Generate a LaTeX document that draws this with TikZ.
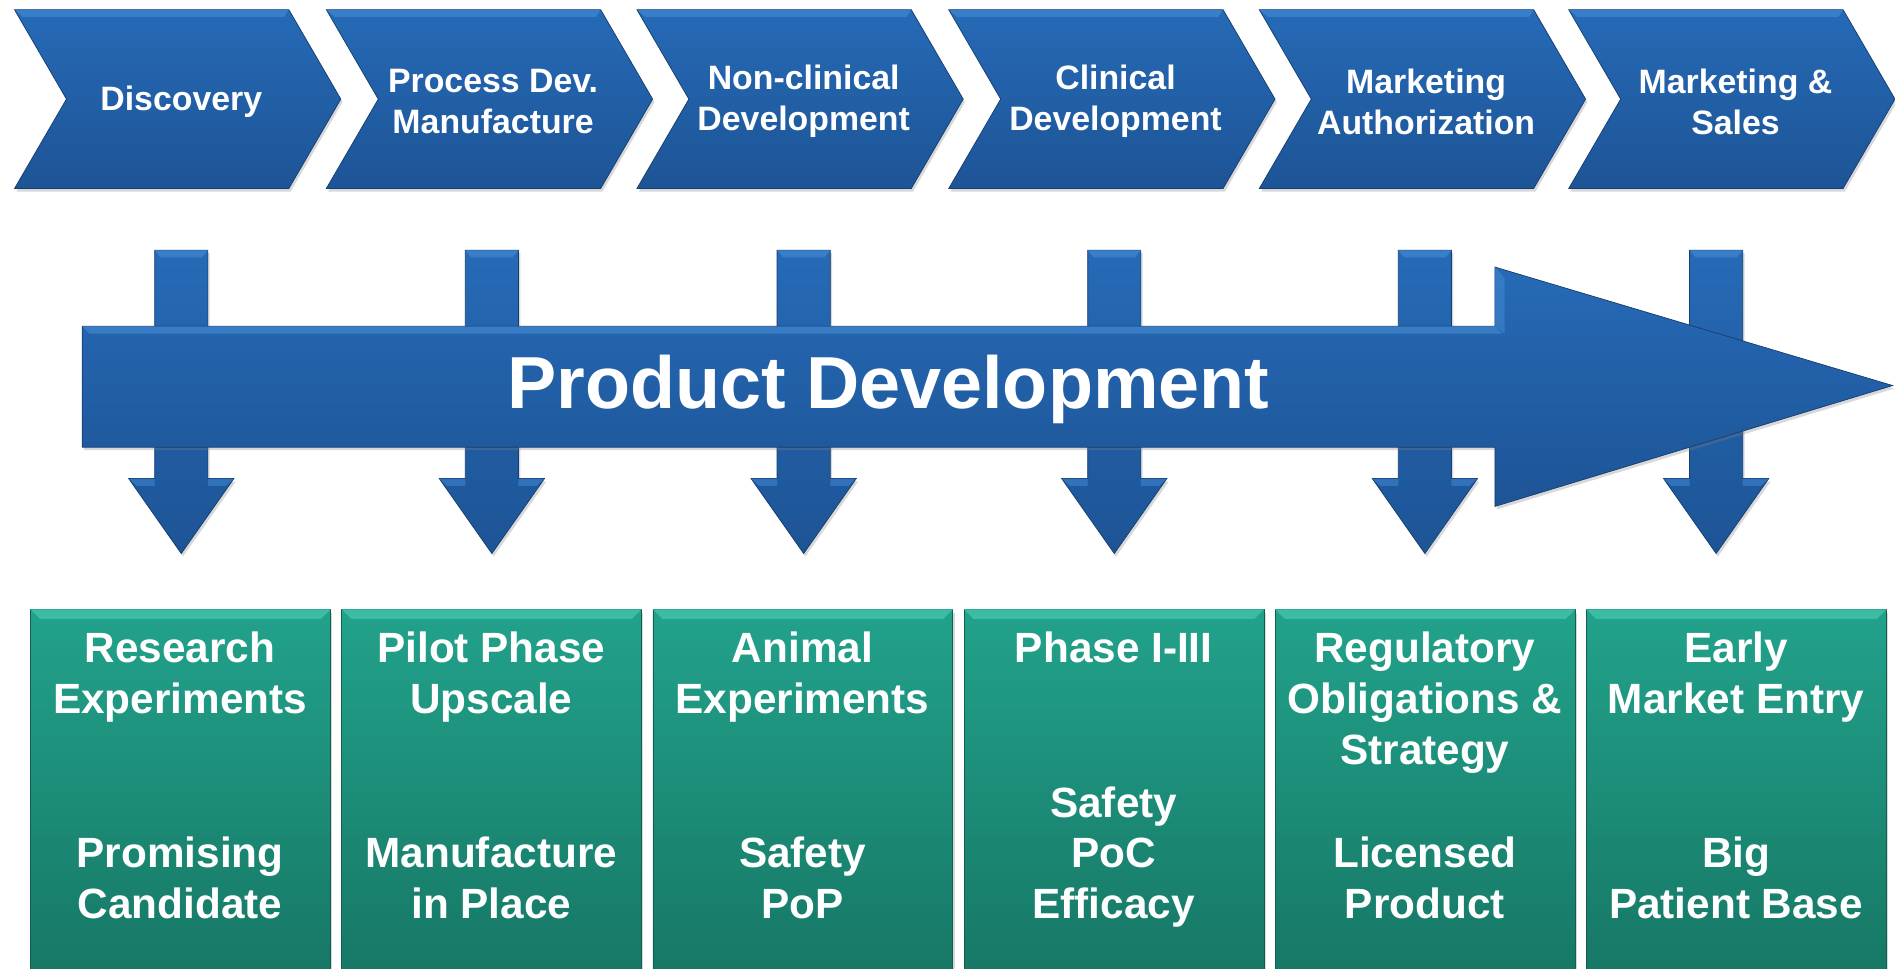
\documentclass[tikz,border=0pt]{standalone}
\usepackage{fontspec}
\setmainfont{Liberation Sans}
\usetikzlibrary{shadows}
\definecolor{blueT}{RGB}{38,106,182}
\definecolor{blueB}{RGB}{29,84,150}
\definecolor{blueEdge}{RGB}{22,62,112}
\definecolor{blueLight}{RGB}{70,140,215}
\definecolor{greenT}{RGB}{34,162,139}
\definecolor{greenB}{RGB}{22,118,100}
\definecolor{greenLight}{RGB}{70,200,175}
\definecolor{greenEdge}{RGB}{18,95,80}
\begin{document}
\begin{tikzpicture}[x=1pt,y=-1pt,
  blueshape/.style={top color=blueT,bottom color=blueB,draw=blueEdge,line width=0.6pt,
    drop shadow={opacity=0.3,shadow xshift=1.5pt,shadow yshift=-2.5pt}},
  greenbox/.style={rectangle,inner sep=0pt,minimum width=248pt,minimum height=311pt,
    top color=greenT,bottom color=greenB,draw=greenEdge,line width=0.6pt,
    drop shadow={opacity=0.3,shadow xshift=1.5pt,shadow yshift=-2.5pt}},
  chevtext/.style={text=white,align=center,font=\fontsize{28}{34}\selectfont\bfseries},
  boxtext/.style={text=white,align=center,anchor=north,inner sep=0pt,font=\fontsize{35}{42}\selectfont\bfseries},
  pdtext/.style={text=white,font=\fontsize{61}{70}\selectfont\bfseries}
]
\useasboundingbox (0,0) rectangle (1568,801);
\clip (0,0) rectangle (1568,801);
\fill[white] (0,0) rectangle (1568,801);

% ---- chevrons
\foreach \L/\n/\t in {12/c1/{Discovery},270/c2/{Process Dev.\\Manufacture},527/c3/{Non-clinical\\Development},785/c4/{Clinical\\Development},1042/c5/{Marketing\\Authorization},1298/c6/{Marketing \&\\Sales}}{
  \path[blueshape] (\L,8) -- ({\L+227},8) -- ({\L+270},82) -- ({\L+227},156) -- (\L,156) -- ({\L+43},82) -- cycle;
  \fill[blueLight,opacity=0.6] (\L,8) -- ({\L+227},8) -- ({\L+223},14) -- ({\L+7},14) -- cycle;
  \node[chevtext] (\n) at ({\L+138},84) {\t};
}

% ---- down arrows
\foreach \c/\n in {150/d1,407/d2,665/d3,922/d4,1179/d5,1420/d6}{
  \path[blueshape] ({\c-22},207) -- ({\c+22},207) -- ({\c+22},396) -- ({\c+43.5},396) -- (\c,458) -- ({\c-43.5},396) -- ({\c-22},396) -- cycle;
  \fill[blueLight,opacity=0.6] ({\c-22},207) -- ({\c+22},207) -- ({\c+17},213) -- ({\c-17},213) -- cycle;
  \fill[blueLight,opacity=0.5] ({\c+22},396) -- ({\c+43.5},396) -- ({\c+37},402) -- ({\c+22},402) -- cycle;
  \fill[blueLight,opacity=0.5] ({\c-22},396) -- ({\c-43.5},396) -- ({\c-37},402) -- ({\c-22},402) -- cycle;
  \coordinate (\n) at (\c,458);
}

% ---- product development arrow
\path[blueshape] (68,270) -- (1237,270) -- (1237,221) -- (1566,319) -- (1237,419) -- (1237,370) -- (68,370) -- cycle;
\fill[blueLight,opacity=0.6] (68,270) -- (1237,270) -- (1243,276) -- (74,276) -- cycle;
\fill[blueLight,opacity=0.5] (1237,221) -- (1245,230) -- (1245,276) -- (1237,270) -- cycle;
\node[pdtext] (pd) at (735,322) {Product Development};

% ---- green boxes
\foreach \X/\n in {25/g1,282.5/g2,540/g3,797.5/g4,1055/g5,1312.5/g6}{
  \node[greenbox,anchor=north west] (\n) at (\X,504) {};
  \fill[greenLight,opacity=0.7] (\n.north west) -- (\n.north east) -- ++(-8,8) -- ([xshift=8pt,yshift=-8pt]\n.north west) -- cycle;
}

\node[boxtext] (t1) at (149,523) {Research\\Experiments};
\node[boxtext] (t2) at (406.5,523) {Pilot Phase\\Upscale};
\node[boxtext] (t3) at (664,523) {Animal\\Experiments};
\node[boxtext] (t4) at (921.5,523) {Phase I-III};
\node[boxtext] (t5) at (1179,523) {Regulatory\\Obligations \&\\Strategy};
\node[boxtext] (t6) at (1436.5,523) {Early\\Market Entry};

\node[boxtext] (b1) at (149,692.5) {Promising\\Candidate};
\node[boxtext] (b2) at (406.5,692.5) {Manufacture\\in Place};
\node[boxtext] (b3) at (664,692.5) {Safety\\PoP};
\node[boxtext] (b4) at (921.5,650.5) {Safety\\PoC\\Efficacy};
\node[boxtext] (b5) at (1179,692.5) {Licensed\\Product};
\node[boxtext] (b6) at (1436.5,692.5) {Big\\Patient Base};
\end{tikzpicture}
\end{document}
